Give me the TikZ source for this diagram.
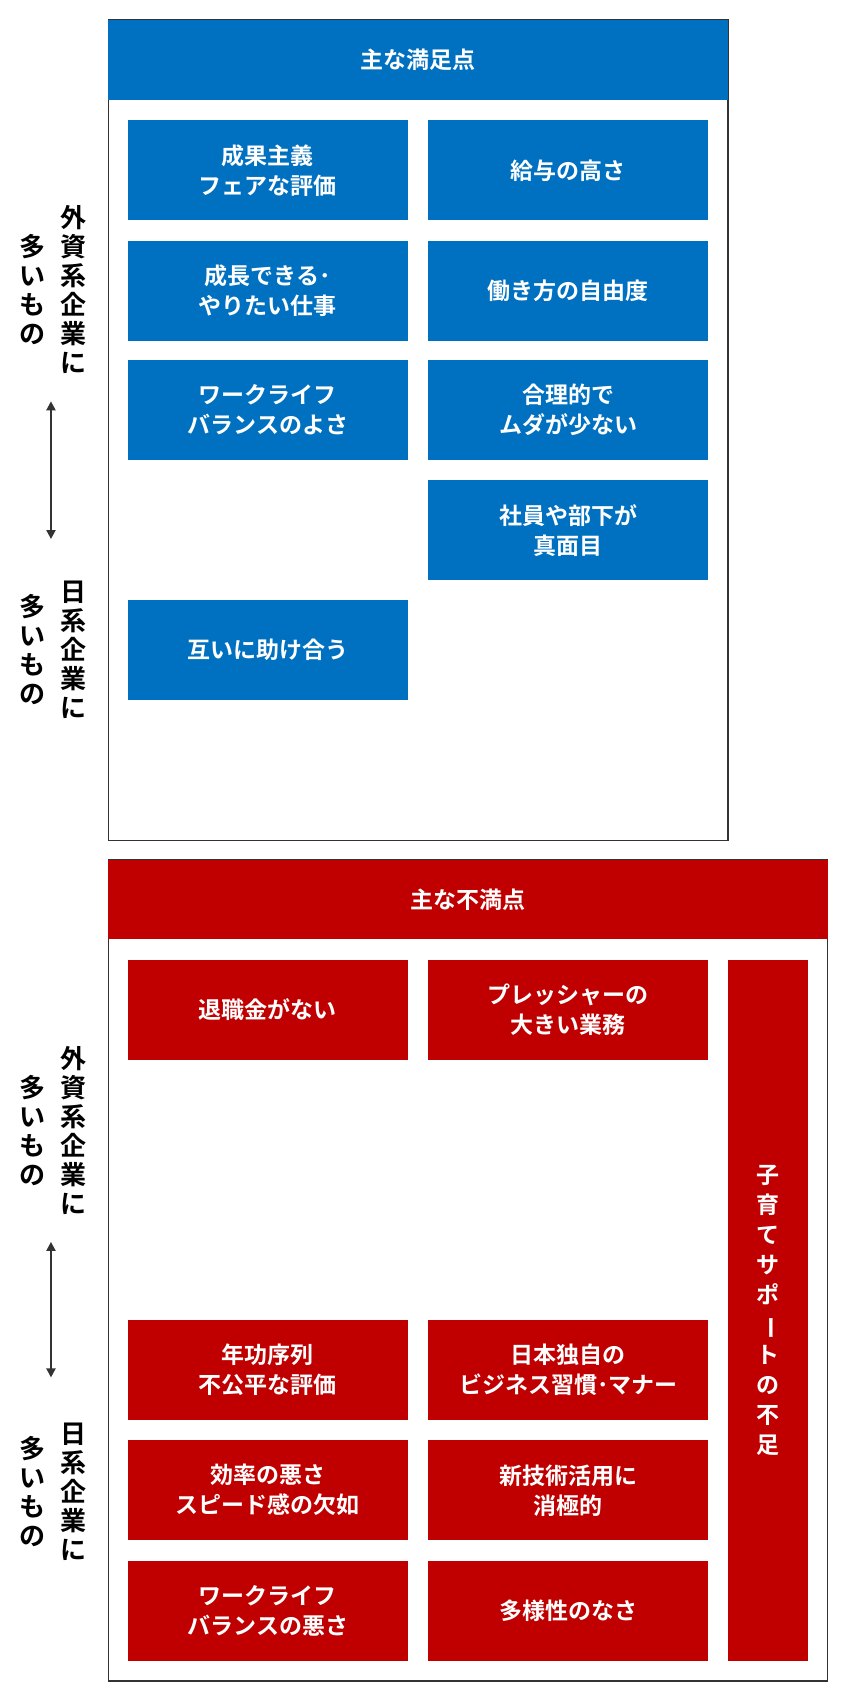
\documentclass[tikz,border=0pt]{standalone}
\usepackage{fontspec}
\setmainfont{Noto Sans CJK JP}[BoldFont={* Bold}]
\usetikzlibrary{arrows.meta}
\definecolor{cblue}{HTML}{0070C0}
\definecolor{cred}{HTML}{C00000}
\definecolor{cgrey}{HTML}{333333}
\newcommand{\vb}{\rotatebox[origin=c]{-90}{ー}}
\begin{document}
\begin{tikzpicture}[x=1.0846pt,y=-1.0846pt,
  frame/.style={draw=cgrey,line width=1.5pt,fill=white},
  cell/.style={inner sep=0pt,text=white,font=\fontsize{23}{30}\selectfont\bfseries,align=center},
  vlab/.style={font=\fontsize{26}{29}\selectfont\bfseries,align=center,text=black,inner sep=0pt},
  arr/.style={{Triangle[length=9pt,width=9pt]}-{Triangle[length=9pt,width=9pt]},line width=2pt,draw=cgrey}]
\useasboundingbox (0,0) rectangle (780,1567.4);
% top box
\draw[frame] (100,18) rectangle (671,775);
\fill[cblue] (100,18) rectangle (671,92);
\node[cell] (h1) at (385.5,55) {主な満足点};
\newcommand{\cellb}[6]{\fill[#1] (#2,#3) rectangle (#4,#5); \node[cell] at ({(#2+#4)/2},{(#3+#5)/2}) {#6};}
\cellb{cblue}{118}{111}{376}{203}{成果主義\\フェアな評価}
\cellb{cblue}{395}{111}{653}{203}{給与の高さ}
\cellb{cblue}{118}{222}{376}{314}{成長できる･\\やりたい仕事}
\cellb{cblue}{395}{222}{653}{314}{働き方の自由度}
\cellb{cblue}{118}{332}{376}{424}{ワークライフ\\バランスのよさ}
\cellb{cblue}{395}{332}{653}{424}{合理的で\\ムダが少ない}
\cellb{cblue}{395}{443}{653}{535}{社員や部下が\\真面目}
\cellb{cblue}{118}{553}{376}{645}{互いに助け合う}
% bottom box
\draw[frame] (100,793) rectangle (763,1550);
\fill[cred] (100,793) rectangle (763,866);
\node[cell] (h2) at (431.5,830) {主な不満点};
\cellb{cred}{118}{885}{376}{977}{退職金がない}
\cellb{cred}{395}{885}{653}{977}{プレッシャーの\\大きい業務}
\cellb{cred}{118}{1217}{376}{1309}{年功序列\\不公平な評価}
\cellb{cred}{395}{1217}{653}{1309}{日本独自の\\ビジネス習慣･マナー}
\cellb{cred}{118}{1328}{376}{1420}{効率の悪さ\\スピード感の欠如}
\cellb{cred}{395}{1328}{653}{1420}{新技術活用に\\消極的}
\cellb{cred}{118}{1439}{376}{1531}{ワークライフ\\バランスの悪さ}
\cellb{cred}{395}{1439}{653}{1531}{多様性のなさ}
\cellb{cred}{671}{885}{745}{1531}{子\\育\\て\\サ\\ポ\\\vb\\ト\\の\\不\\足}
% side labels
\foreach \yc/\ya/\yb/\yd [count=\i] in {267/370/497/599, 1042/1145/1270/1375}{
  \node[vlab] (a\i) at (68,\yc) {外\\資\\系\\企\\業\\に};
  \node[vlab] (b\i) at (30,\yc) {多\\い\\も\\の};
  \node[vlab] (c\i) at (68,\yd) {日\\系\\企\\業\\に};
  \node[vlab] (d\i) at (30,\yd) {多\\い\\も\\の};
  \coordinate (p\i) at (47,\ya);
  \coordinate (q\i) at (47,\yb);
  \draw[arr] (p\i) -- (q\i);
}
\end{tikzpicture}
\end{document}
